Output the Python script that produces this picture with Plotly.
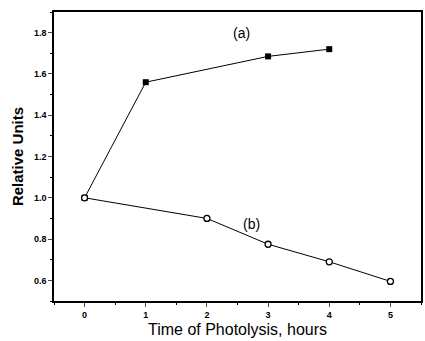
import plotly.graph_objects as go

x_a = [0, 1, 3, 4]
y_a = [1.00, 1.56, 1.685, 1.72]
x_b = [0, 2, 3, 4, 5]
y_b = [1.00, 0.90, 0.775, 0.69, 0.595]

FONT = "Liberation Sans, Arial"

fig = go.Figure()
fig.add_trace(go.Scatter(x=x_a, y=y_a, mode="lines+markers",
                         line=dict(color="black", width=1),
                         marker=dict(symbol="square", size=6, color="black")))
fig.add_trace(go.Scatter(x=x_b, y=y_b, mode="lines+markers",
                         line=dict(color="black", width=1),
                         marker=dict(symbol="circle", size=6, color="white",
                                     line=dict(width=1.3, color="black"))))

fig.add_annotation(x=2.57, y=1.8, text="(a)", showarrow=False,
                   font=dict(family=FONT, size=14, color="black"))
fig.add_annotation(x=2.73, y=0.875, text="(b)", showarrow=False,
                   font=dict(family=FONT, size=14, color="black"))

fig.update_layout(
    width=425, height=341,
    margin=dict(l=54, r=2, t=12, b=40),
    paper_bgcolor="white", plot_bgcolor="white",
    showlegend=False,
    font=dict(family=FONT, color="black"),
)
fig.update_xaxes(range=[-0.5, 5.5], tickvals=[0, 1, 2, 3, 4, 5],
                 ticks="outside", ticklen=4, tickwidth=1.2,
                 minor=dict(dtick=0.5, tick0=0, ticks="outside", ticklen=2, tickcolor="black"),
                 showline=True, linecolor="black", linewidth=1.5, mirror=True,
                 showgrid=False, zeroline=False,
                 tickfont=dict(size=9, family=FONT, weight="bold"),
                 title=dict(text="Time of Photolysis, hours", font=dict(size=16), standoff=5))
fig.update_yaxes(range=[0.5, 1.9], tickvals=[0.6, 0.8, 1.0, 1.2, 1.4, 1.6, 1.8],
                 ticktext=["0.6", "0.8", "1.0", "1.2", "1.4", "1.6", "1.8"],
                 ticks="outside", ticklen=4, tickwidth=1.2,
                 minor=dict(dtick=0.1, tick0=0.5, ticks="outside", ticklen=2, tickcolor="black"),
                 showline=True, linecolor="black", linewidth=1.5, mirror=True,
                 showgrid=False, zeroline=False,
                 tickfont=dict(size=9, family=FONT, weight="bold"),
                 title=dict(text="Relative Units", font=dict(size=15, weight="bold"), standoff=7))

fig.write_html("out.html")
